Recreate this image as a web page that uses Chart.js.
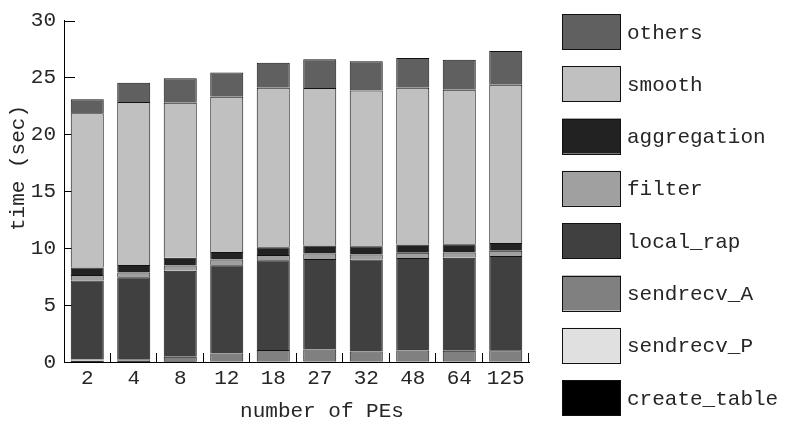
<!DOCTYPE html>
<html>
<head>
<meta charset="utf-8">
<script src="https://cdn.jsdelivr.net/npm/chart.js@4.4.1/dist/chart.umd.min.js"></script>
<style>
  html, body { margin: 0; padding: 0; background: #fff; }
  #wrap { width: 786px; height: 423px; }
</style>
</head>
<body>
<div id="wrap"><canvas id="myChart" width="786" height="423"></canvas></div>
<script>
// categories (number of PEs)
const peLabels = ['2', '4', '8', '12', '18', '27', '32', '48', '64', '125'];

// stacked time components (sec), bottom to top
const createTable = [0.12, 0.08, 0.06, 0.05, 0.05, 0.05, 0.05, 0.05, 0.05, 0.05];
const sendrecvP   = [0.03, 0.03, 0.03, 0.03, 0.03, 0.03, 0.03, 0.03, 0.03, 0.03];
const sendrecvA   = [0.08, 0.09, 0.37, 0.67, 0.98, 1.01, 0.84, 0.92, 0.90, 0.95];
const localRap    = [6.93, 7.24, 7.56, 7.75, 7.88, 7.96, 8.08, 8.14, 8.19, 8.28];
const filterT     = [0.48, 0.43, 0.46, 0.50, 0.46, 0.49, 0.45, 0.46, 0.46, 0.46];
const aggregation = [0.66, 0.66, 0.69, 0.66, 0.69, 0.69, 0.72, 0.72, 0.71, 0.69];
const smooth      = [13.56, 14.31, 13.62, 13.64, 14.01, 13.85, 13.68, 13.78, 13.59, 13.91];
const others      = [1.22, 1.70, 2.15, 2.13, 2.19, 2.52, 2.58, 2.62, 2.62, 2.96];

// y axis ticks
const yTicks = [0, 5, 10, 15, 20, 25, 30];

const FONT = "'Liberation Mono', 'DejaVu Sans Mono', monospace";
const TXT = '#262626';
const FS = 21;

const series = [
  { label: 'create_table', data: createTable, color: '#000000' },
  { label: 'sendrecv_P',   data: sendrecvP,   color: '#e0e0e0' },
  { label: 'sendrecv_A',   data: sendrecvA,   color: '#808080' },
  { label: 'local_rap',    data: localRap,    color: '#404040' },
  { label: 'filter',       data: filterT,     color: '#a0a0a0' },
  { label: 'aggregation',  data: aggregation, color: '#222222' },
  { label: 'smooth',       data: smooth,      color: '#c0c0c0' },
  { label: 'others',       data: others,      color: '#606060' }
];

// inward tick marks on both axes (drawn under the bars)
const innerTicks = {
  id: 'innerTicks',
  beforeDatasetsDraw(chart) {
    const { ctx, chartArea, scales } = chart;
    ctx.save();
    ctx.strokeStyle = '#000';
    ctx.lineWidth = 1;
    yTicks.forEach(v => {
      const y = Math.round(scales.y.getPixelForValue(v)) + 0.5;
      ctx.beginPath();
      ctx.moveTo(chartArea.left, y);
      ctx.lineTo(chartArea.left + 11, y);
      ctx.stroke();
    });
    const step = (chartArea.right - chartArea.left) / peLabels.length;
    for (let i = 1; i <= peLabels.length; i++) {
      const x = Math.round(chartArea.left + i * step) - 0.5;
      ctx.beginPath();
      ctx.moveTo(x, chartArea.bottom);
      ctx.lineTo(x, chartArea.bottom - 9);
      ctx.stroke();
    }
    ctx.restore();
  }
};

// axis titles + legend on the right
const sideStuff = {
  id: 'sideStuff',
  afterDraw(chart) {
    const { ctx } = chart;
    ctx.save();
    ctx.fillStyle = TXT;
    ctx.font = FS + 'px ' + FONT;
    ctx.textAlign = 'center';
    ctx.textBaseline = 'middle';
    ctx.fillText('number of PEs', 322, 411);
    ctx.translate(18, 168);
    ctx.rotate(-Math.PI / 2);
    ctx.fillText('time (sec)', 0, 0);
    ctx.restore();

    ctx.save();
    ctx.font = FS + 'px ' + FONT;
    ctx.textAlign = 'left';
    ctx.textBaseline = 'middle';
    const ds = chart.data.datasets.slice().reverse();
    ds.forEach((d, i) => {
      const top = 14 + i * 52.3;
      ctx.fillStyle = d.backgroundColor;
      ctx.fillRect(562, top, 59, 35);
      ctx.strokeStyle = '#111';
      ctx.lineWidth = 1;
      ctx.strokeRect(562.5, Math.round(top) + 0.5, 58, 35);
      ctx.fillStyle = TXT;
      ctx.fillText(d.label, 627, top + 19);
    });
    ctx.restore();
  }
};

const ctx = document.getElementById('myChart').getContext('2d');
const myChart = new Chart(ctx, {
  type: 'bar',
  data: {
    labels: peLabels,
    datasets: series.map(s => ({
      label: s.label,
      data: s.data,
      backgroundColor: s.color,
      borderColor: '#111',
      borderWidth: { top: 1, left: 1, right: 1, bottom: 0 },
      borderSkipped: false,
      barPercentage: 0.71,
      categoryPercentage: 1.0
    }))
  },
  options: {
    responsive: false,
    animation: false,
    devicePixelRatio: 1,
    layout: { padding: { left: 0, right: 257, top: 14, bottom: 0 } },
    plugins: {
      legend: { display: false },
      tooltip: { enabled: false }
    },
    scales: {
      x: {
        stacked: true,
        grid: { display: false, drawTicks: false },
        border: { display: true, color: '#000', width: 1 },
        ticks: { color: TXT, font: { family: FONT, size: FS }, padding: 4, maxRotation: 0 },
        afterFit(scale) { scale.height = 61; }
      },
      y: {
        stacked: true,
        min: 0,
        max: 30,
        grid: { display: false, drawTicks: false },
        border: { display: true, color: '#000', width: 1 },
        ticks: { stepSize: 5, color: TXT, font: { family: FONT, size: FS }, padding: 8 },
        afterFit(scale) { scale.width = 64; }
      }
    }
  },
  plugins: [innerTicks, sideStuff]
});
</script>
</body>
</html>
